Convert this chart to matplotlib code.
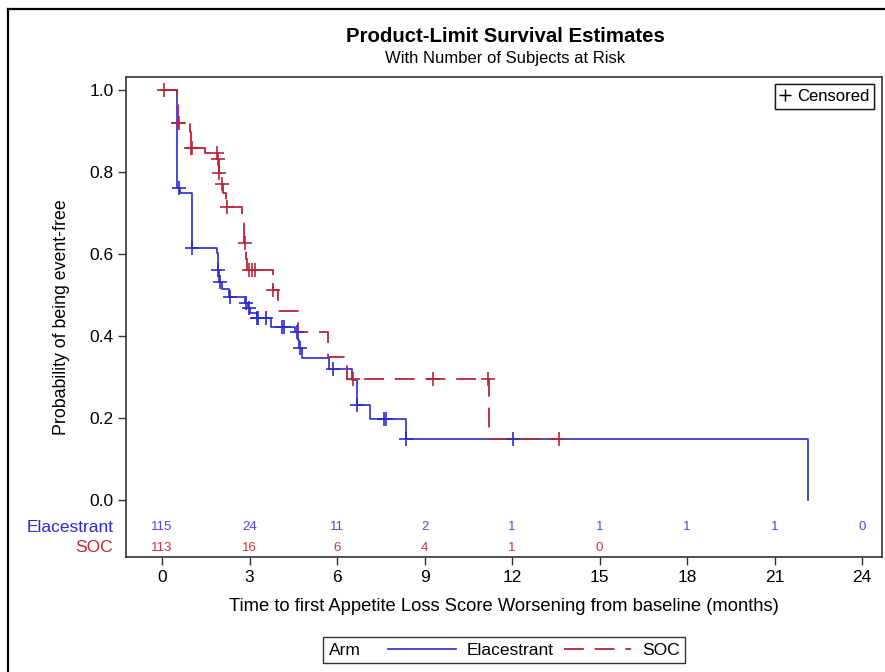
import matplotlib
matplotlib.use("Agg")
import matplotlib.pyplot as plt
from matplotlib.lines import Line2D
from matplotlib.offsetbox import HPacker

plt.rcParams["font.family"] = ["Liberation Sans", "DejaVu Sans"]

# ---------------- data ----------------
ela_times = [0, 0.50, 0.53, 0.62, 1.02, 1.87, 1.93, 1.97, 2.05, 2.28, 2.85, 2.95, 3.03,
             3.25, 3.75, 4.56, 4.65, 4.70, 4.79, 5.73, 6.50, 6.67, 7.13, 8.37, 22.15]
ela_surv = [1.0, 0.87, 0.76, 0.748, 0.615, 0.603, 0.56, 0.532, 0.515, 0.496, 0.48, 0.468, 0.456,
            0.444, 0.423, 0.41, 0.39, 0.37, 0.346, 0.32, 0.293, 0.232, 0.197, 0.148, 0.0]
ela_cens_t = [0.58, 1.03, 1.93, 1.98, 2.33, 2.87, 2.97, 3.27, 3.30, 3.57, 4.10, 4.18,
              4.62, 4.72, 5.85, 6.68, 7.61, 7.68, 8.37, 12.03]

soc_times = [0, 0.50, 0.56, 0.96, 0.98, 1.00, 1.47, 1.90, 1.95, 2.02, 2.10, 2.20, 2.73,
             2.80, 2.88, 2.93, 3.79, 3.99, 4.67, 5.70, 6.33, 11.22, 13.65]
soc_surv = [1.0, 0.963, 0.919, 0.898, 0.88, 0.858, 0.847, 0.833, 0.797, 0.772, 0.75, 0.715, 0.675,
            0.626, 0.589, 0.561, 0.512, 0.462, 0.41, 0.35, 0.295, 0.148, 0.148]
soc_cens_t = [0.07, 0.56, 0.59, 1.00, 1.02, 1.88, 1.93, 1.97, 2.05, 2.22, 2.85, 2.98,
              3.10, 3.20, 3.82, 6.56, 9.30, 11.16, 13.60]

risk_times = [0, 3, 6, 9, 12, 15, 18, 21, 24]
ela_risk = [115, 24, 11, 2, 1, 1, 1, 1, 0]
soc_risk = [113, 16, 6, 4, 1, 0]

xticks = [0, 3, 6, 9, 12, 15, 18, 21, 24]
yticks = [0.0, 0.2, 0.4, 0.6, 0.8, 1.0]

BLUE = "#2b2bd0"
RED = "#b8243a"
BLUE_T = "#4a4ae0"
RED_T = "#c83445"
DASH = (11, 6)


def surv_at(times, surv, t):
    val = surv[0]
    for ti, si in zip(times, surv):
        if ti <= t:
            val = si
    return val


W, H = 885, 672
fig = plt.figure(figsize=(W / 100, H / 100), dpi=100)

# outer border lines (figure coords)
fig.add_artist(Line2D([7.5 / W, 7.5 / W], [0, 1 - 9 / H], color="black", lw=1.6,
                      transform=fig.transFigure))
fig.add_artist(Line2D([7.5 / W, 1], [1 - 9 / H, 1 - 9 / H], color="black", lw=1.6,
                      transform=fig.transFigure))

L, R, T, B = 126, 882, 77, 557
ax = fig.add_axes([L / W, 1 - B / H, (R - L) / W, (B - T) / H])
ax.set_xlim(-1.234, 24.68)
ax.set_ylim(-0.139, 1.032)

ax.step(ela_times, ela_surv, where="post", color=BLUE, lw=1.2)
ax.step(soc_times, soc_surv, where="post", color=RED, lw=1.3, dashes=DASH)

ax.plot(ela_cens_t, [surv_at(ela_times, ela_surv, t) for t in ela_cens_t], ls="none",
        marker="+", ms=10, mew=1.2, color=BLUE)
ax.plot(soc_cens_t, [surv_at(soc_times, soc_surv, t) for t in soc_cens_t], ls="none",
        marker="+", ms=10, mew=1.2, color=RED)

# at risk table
for t, n in zip(risk_times, ela_risk):
    ax.text(t, -0.066, str(n), ha="center", va="center", color=BLUE_T, fontsize=9.5)
for t, n in zip(risk_times, soc_risk):
    ax.text(t, -0.117, str(n), ha="center", va="center", color=RED_T, fontsize=9.5)
ax.text(-0.017, -0.066, "Elacestrant", transform=ax.get_yaxis_transform(), ha="right",
        va="center", color=BLUE, fontsize=12.5)
ax.text(-0.017, -0.117, "SOC", transform=ax.get_yaxis_transform(), ha="right",
        va="center", color=RED, fontsize=12.5)

ax.set_yticks(yticks)
ax.set_yticklabels([f"{v:.1f}" for v in yticks], fontsize=12.5)
ax.set_xticks(xticks)
ax.set_xticklabels([str(v) for v in xticks], fontsize=12.5)
ax.tick_params(direction="out", length=6, width=1, color="#333333", pad=3)
for s in ax.spines.values():
    s.set_color("#333333")
    s.set_linewidth(1.2)
ax.set_ylabel("Probability of being event-free", fontsize=12.8, labelpad=14)
ax.set_xlabel("Time to first Appetite Loss Score Worsening from baseline (months)",
              fontsize=13.2, labelpad=10)

fig.text(505 / W, 1 - 37 / H, "Product-Limit Survival Estimates", ha="center",
         va="center", fontsize=14.7, fontweight="bold")
fig.text(505 / W, 1 - 58 / H, "With Number of Subjects at Risk", ha="center",
         va="center", fontsize=12)

# censored legend
cl = ax.legend([Line2D([], [], ls="none", marker="+", color="black", ms=9, mew=1)],
               ["Censored"], loc="upper right", bbox_to_anchor=(0.99, 0.985),
               frameon=True, fancybox=False, edgecolor="black", fontsize=12,
               handlelength=0.6, handletextpad=0.4, borderpad=0.3, borderaxespad=0)
cl.get_frame().set_linewidth(1)
ax.add_artist(cl)

# bottom legend (Arm)
h1 = Line2D([], [], color=BLUE, lw=1.2)
h2 = Line2D([], [], color=RED, lw=1.3, dashes=DASH)
leg = fig.legend([h1, h2], ["Elacestrant", "SOC"], title="Arm", ncol=2,
                 loc="center", bbox_to_anchor=(504 / W, 1 - 650 / H),
                 frameon=True, fancybox=False, edgecolor="black", fontsize=12.5,
                 title_fontsize=12.5, handlelength=3.9, handletextpad=0.6,
                 columnspacing=0.6, borderpad=0.3)
leg.get_frame().set_linewidth(1)
fs = leg._fontsize
hp = HPacker(pad=leg.borderpad * fs, sep=1.6 * fs, align="baseline",
             children=[leg._legend_title_box, leg._legend_handle_box])
hp.set_figure(fig)
hp.set_offset(leg._findoffset)
leg._legend_box = hp

fig.savefig("out.png", dpi=100)
